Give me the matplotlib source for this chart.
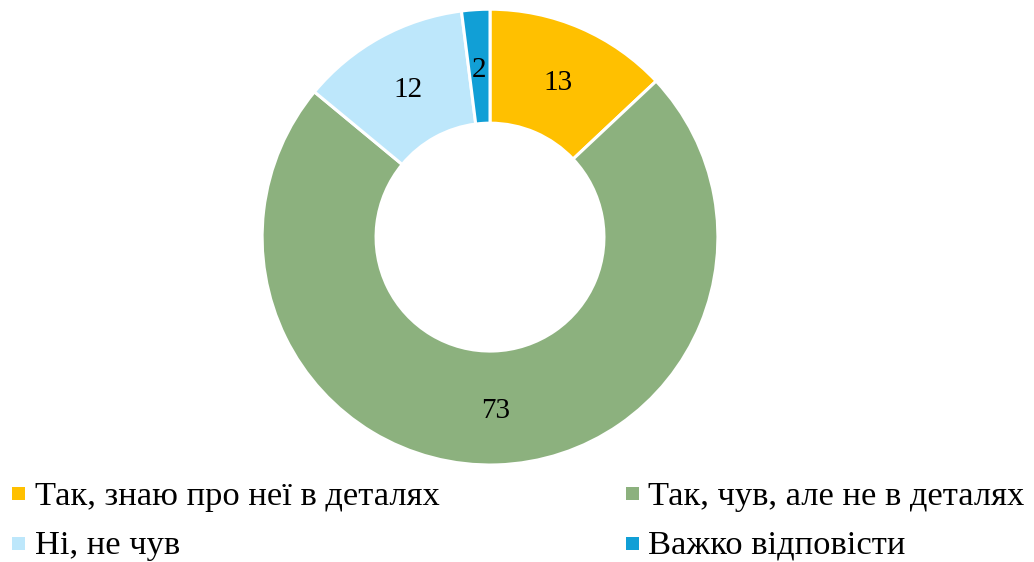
import numpy as np
import matplotlib.pyplot as plt
from matplotlib.patches import Rectangle

labels = ["Так, знаю про неї в деталях", "Так, чув, але не в деталях",
          "Ні, не чув", "Важко відповісти"]
values = [13, 73, 12, 2]
colors = ["#FFC000", "#8CB17E", "#BDE7FB", "#119FD6"]

plt.rcParams['font.family'] = ['Liberation Serif', 'DejaVu Serif']

W, H = 1034, 562
fig = plt.figure(figsize=(W / 100, H / 100), dpi=100)
ax = fig.add_axes([0.2534, 0.1726, 0.441, 0.811])

wedges, _ = ax.pie(values, colors=colors, startangle=90, counterclock=False,
                   radius=1.0,
                   wedgeprops=dict(width=0.5, edgecolor="white", linewidth=2.2))
for w, v in zip(wedges, values):
    ang = np.deg2rad((w.theta1 + w.theta2) / 2)
    r = 0.75
    ax.text(r * np.cos(ang), r * np.sin(ang), str(v), ha="center",
            va="center_baseline", fontsize=21)
ax.set_xlim(-1, 1)
ax.set_ylim(-1, 1)
ax.set_aspect("equal")
ax.axis("off")

# legend, two columns, row-wise order
box_x = [12, 626]
text_x = [35, 648]
box_cy = [493, 543]
baseline = [505, 554]
for i, (lab, c) in enumerate(zip(labels, colors)):
    row, col = divmod(i, 2)
    fig.patches.append(Rectangle(((box_x[col]) / W, (H - box_cy[row] - 6.5) / H),
                                 13 / W, 13 / H, facecolor=c, edgecolor="none",
                                 transform=fig.transFigure, figure=fig))
    fig.text(text_x[col] / W, (H - baseline[row]) / H, lab, fontsize=24.8,
             ha="left", va="baseline")

fig.savefig("out.png", dpi=100)
